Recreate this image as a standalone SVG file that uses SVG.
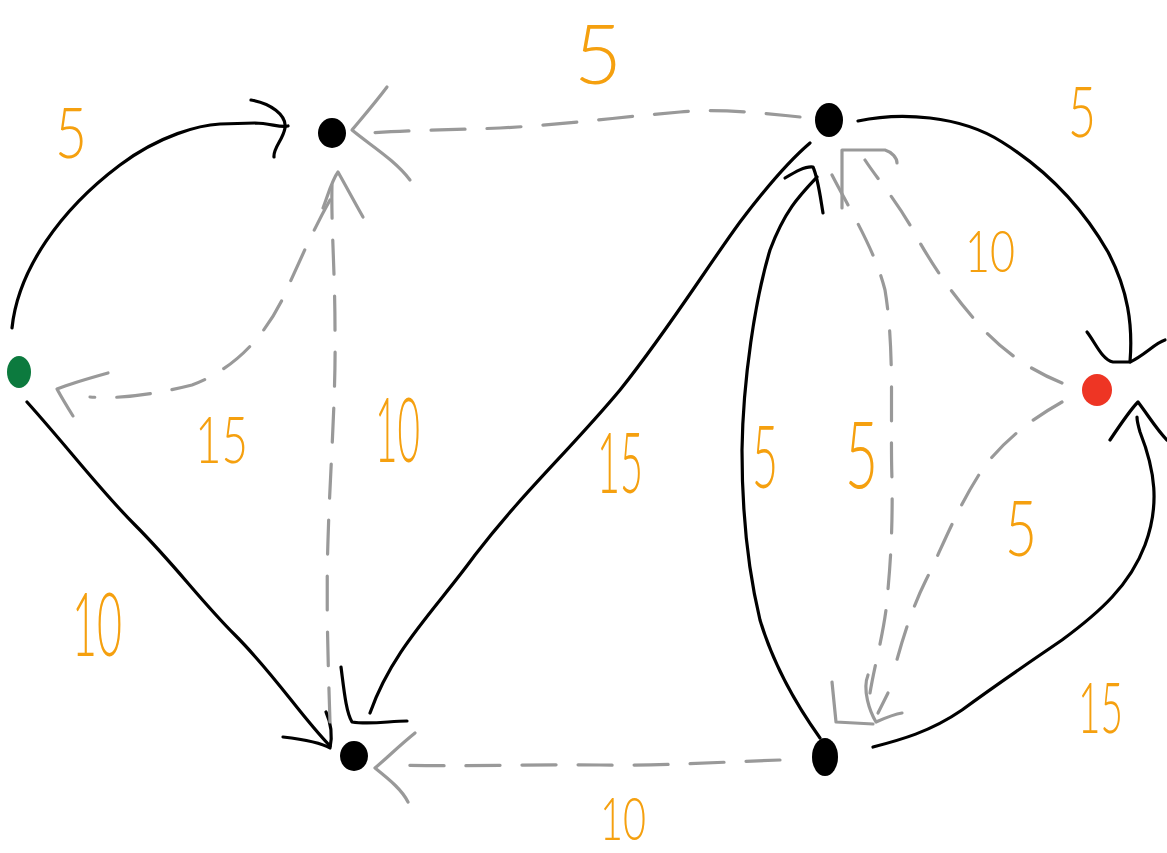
<svg xmlns="http://www.w3.org/2000/svg" width="1167" height="853" viewBox="0 0 1167 853">
<style>
.s{fill:none;stroke:#000;stroke-width:3.2;stroke-linecap:round;stroke-linejoin:round}
.d{fill:none;stroke:#999;stroke-width:3.2;stroke-linecap:round;stroke-linejoin:round;stroke-dasharray:34 22}
.h{fill:none;stroke:#999;stroke-width:3.2;stroke-linecap:round;stroke-linejoin:round}
.l{fill:#F5A00F;font-family:Lato,"Open Sans","DejaVu Sans",sans-serif;font-weight:300}
</style>
<rect width="1167" height="853" fill="#fff"/>
<g id="connectors">
<!-- green -> A -->
<path class="s" d="M12,328 C18,270 60,210 120,165 C160,135 200,125 220,124 L255,123 C270,123 280,128 288,126"/>
<path class="s" d="M251,100 C270,103 287,115 285,128 C283,140 273,148 274,157"/>
<!-- green -> C -->
<path class="s" d="M27,402 C70,450 100,490 135,525 C175,565 200,600 235,635 C275,675 300,715 330,746"/>
<path class="s" d="M283,737 C300,739 320,742 330,748 M326,712 C332,725 332,738 330,748"/>
<!-- B -> C -->
<path class="s" d="M810,143 C790,160 768,185 740,222 C705,270 668,330 620,390 C570,450 525,490 475,555 C435,610 392,650 370,713"/>
<path class="s" d="M341,667 C344,690 346,712 352,722 C370,725 390,721 407,721"/>
<!-- D -> B -->
<path class="s" d="M820,738 C800,710 775,670 760,620 C748,570 742,510 742,450 C743,380 755,300 770,250 C785,210 800,195 817,177"/>
<path class="s" d="M785,178 C795,172 805,166 813,167 C818,178 820,195 823,213"/>
<!-- B -> red -->
<path class="s" d="M858,121 C900,112 960,115 1002,142 C1050,172 1085,212 1108,252 C1128,290 1133,325 1130,362"/>
<path class="s" d="M1087,332 C1095,342 1102,360 1113,362 L1130,362 C1145,355 1155,343 1165,340"/>
<!-- D -> red -->
<path class="s" d="M873,747 C900,740 930,732 962,710 C1000,682 1030,662 1062,640 C1100,612 1130,585 1145,545 C1160,505 1155,470 1140,432 C1138,425 1137,420 1137,417"/>
<path class="s" d="M1110,440 C1120,425 1130,410 1138,402 C1148,415 1157,430 1167,440"/>
<!-- B -> A dashed -->
<path class="d" d="M800,117 C760,113 720,108 680,112 C620,117 560,125 500,128 C450,130 410,130 370,133"/>
<path class="h" d="M387,87 C375,103 362,118 352,130 C370,145 395,160 410,180"/>
<!-- C -> A dashed -->
<path class="d" d="M330,722 C328,660 326,600 328,540 C330,470 336,400 335,330 C335,270 331,225 332,185"/>
<path class="h" d="M323,208 C328,195 332,180 338,172 C347,188 355,203 363,217"/>
<!-- A -> green dashed -->
<path class="d" d="M330,200 C312,232 298,265 282,300 C262,340 232,370 192,385 C152,395 120,399 90,397"/>
<path class="h" d="M108,373 C90,378 72,383 57,389 C63,400 68,408 73,416"/>
<!-- D -> C dashed -->
<path class="d" d="M780,760 C720,762 660,766 600,765 C530,764 460,767 397,765"/>
<path class="h" d="M415,733 C400,745 388,757 375,768 C390,780 402,790 408,802"/>
<!-- B -> D dashed -->
<path class="d" d="M832,175 C850,210 875,250 885,290 C895,350 890,420 892,480 C893,540 889,580 886,610 C882,640 874,668 870,693"/>
<path class="h" d="M832,682 L836,722 L873,724"/>
<!-- red -> D dashed -->
<path class="d" d="M1062,402 C1030,420 1002,442 982,470 C957,508 942,548 926,580 C912,608 902,640 892,678"/>
<path class="h" d="M888,693 L878,713 M868,675 C862,690 870,712 876,722 C885,718 895,714 902,713"/>
<!-- red -> B dashed -->
<path class="d" d="M1062,383 C1030,370 1000,350 975,320 C945,285 928,258 910,225 C892,195 876,177 865,160"/>
<path class="h" d="M842,208 L842,150 L885,150 C892,152 897,158 897,163"/>
</g>
<g id="n_green"><ellipse cx="19" cy="372" rx="12" ry="16" fill="#0C7A3E"/></g>
<g id="n_A"><ellipse cx="332" cy="133" rx="14" ry="15" fill="#000"/></g>
<g id="n_B"><ellipse cx="829" cy="120" rx="14" ry="17" fill="#000"/></g>
<g id="n_red"><ellipse cx="1097" cy="390" rx="15" ry="16" fill="#EE3524"/></g>
<g id="n_C"><ellipse cx="354" cy="756" rx="14" ry="15" fill="#000"/></g>
<g id="n_D"><ellipse cx="825" cy="757" rx="13" ry="19" fill="#000"/></g>
<g id="labels">
<text class="l" x="55" y="158" font-size="70" textLength="32" lengthAdjust="spacingAndGlyphs">5</text>
<text class="l" x="574" y="84" font-size="82" textLength="48" lengthAdjust="spacingAndGlyphs">5</text>
<text class="l" x="1068" y="137" font-size="70" textLength="28" lengthAdjust="spacingAndGlyphs">5</text>
<text class="l" x="965" y="272" font-size="58" textLength="50" lengthAdjust="spacingAndGlyphs">10</text>
<text class="l" x="195" y="463" font-size="66" textLength="53" lengthAdjust="spacingAndGlyphs">15</text>
<text class="l" x="375" y="462" font-size="90" textLength="45" lengthAdjust="spacingAndGlyphs">10</text>
<text class="l" x="597" y="493" font-size="84" textLength="46" lengthAdjust="spacingAndGlyphs">15</text>
<text class="l" x="752" y="488" font-size="86" textLength="26" lengthAdjust="spacingAndGlyphs">5</text>
<text class="l" x="845" y="488" font-size="92" textLength="33" lengthAdjust="spacingAndGlyphs">5</text>
<text class="l" x="1005" y="556" font-size="76" textLength="32" lengthAdjust="spacingAndGlyphs">5</text>
<text class="l" x="72" y="656" font-size="88" textLength="50" lengthAdjust="spacingAndGlyphs">10</text>
<text class="l" x="1078" y="733" font-size="70" textLength="45" lengthAdjust="spacingAndGlyphs">15</text>
<text class="l" x="600" y="840" font-size="60" textLength="46" lengthAdjust="spacingAndGlyphs">10</text>
</g>
</svg>
